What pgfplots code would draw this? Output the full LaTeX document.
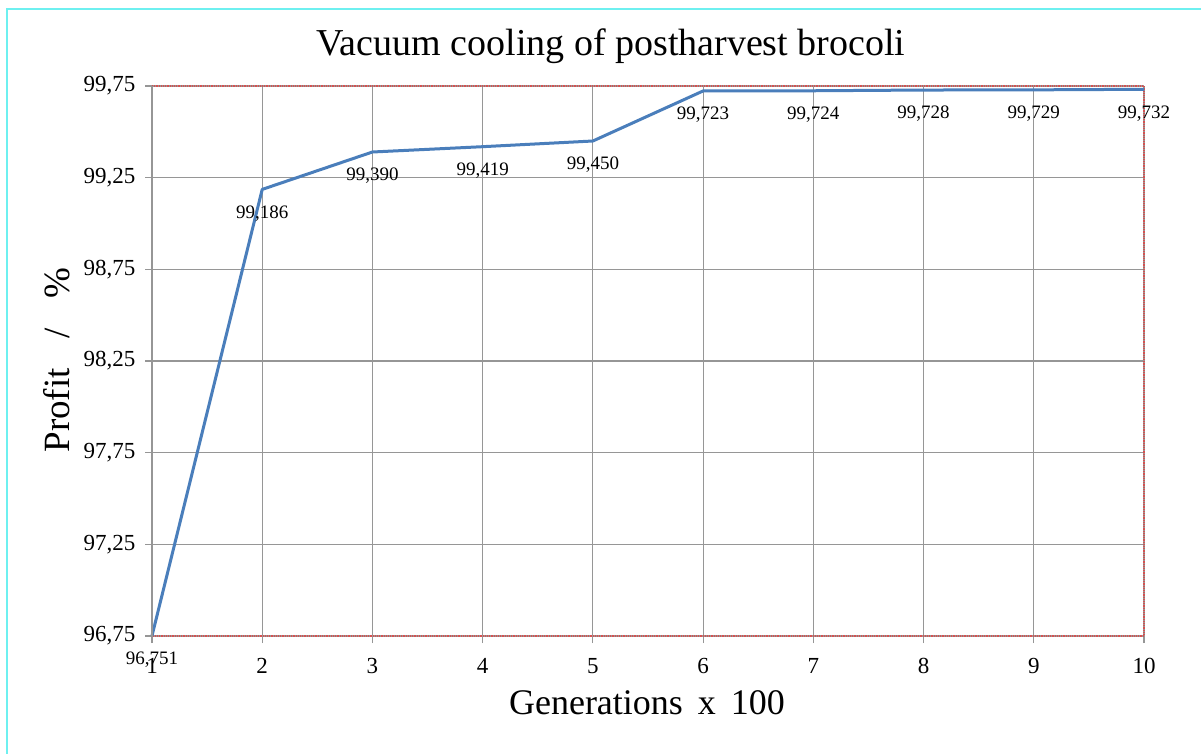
\documentclass[border=0pt]{standalone}
\usepackage{pgfplots}
\pgfplotsset{compat=1.18}
\usepackage{pgfplotstable}
\usepackage{fontspec}
\setmainfont{Liberation Serif}
\definecolor{lineblue}{RGB}{74,126,187}
\definecolor{gridgray}{RGB}{150,150,150}
\definecolor{reddot}{RGB}{215,80,80}
\definecolor{framecyan}{RGB}{110,240,240}
\pgfplotstableread{
x y lab
1 96.751 96,751
2 99.186 99,186
3 99.390 99,390
4 99.419 99,419
5 99.450 99,450
6 99.723 99,723
7 99.724 99,724
8 99.728 99,728
9 99.729 99,729
10 99.732 99,732
}\datatable
\begin{document}
\begin{tikzpicture}[x=1pt,y=1pt]
\path[use as bounding box] (0,0) rectangle (1201,-754);
\draw[framecyan, line width=2pt] (7,-754) -- (7,-9) -- (1201,-9);
\begin{axis}[at={(152pt,-636pt)}, anchor=south west, scale only axis,
  width=992pt, height=550pt,
  xmin=1, xmax=10, ymin=96.75, ymax=99.75,
  xtick={1,2,3,4,5,6,7,8,9,10},
  ytick={96.75,97.25,97.75,98.25,98.75,99.25,99.75},
  grid=major,
  grid style={gridgray, line width=1.1pt},
  tick pos=left, tick align=outside, major tick length=7pt,
  tick style={gridgray, line width=1.1pt},
  axis line style={reddot, densely dotted, line width=1.2pt},
  clip=false,
  /pgf/number format/assume math mode=true,
  yticklabel style={/pgf/number format/fixed, /pgf/number format/fixed zerofill, /pgf/number format/precision=2, /pgf/number format/use comma, /pgf/number format/assume math mode=true, xshift=-6pt},
  xticklabel style={/pgf/number format/assume math mode=true, yshift=-12pt},
  ticklabel style={font=\fontsize{23}{23}\selectfont, text=black},
  point meta=explicit symbolic,
]
\addplot[lineblue, line width=3pt, line join=round,
  nodes near coords,
  every node near coord/.append style={anchor=center, yshift=-24pt, text=black, font=\fontsize{19}{19}\selectfont}]
  table[x=x, y=y, meta=lab] {\datatable};
\draw[gridgray, line width=1.1pt] (rel axis cs:0,0) -- (rel axis cs:0,1);
\end{axis}
\node[font=\fontsize{38}{38}\selectfont] at (611,-46) {Vacuum cooling of postharvest brocoli};
\node[font=\fontsize{36}{36}\selectfont] at (647,-703) {Generations\, x\, 100};
\node[font=\fontsize{37}{37}\selectfont, rotate=90] at (57,-360) {Profit\;\; /\;\; \%};
\end{tikzpicture}
\end{document}
